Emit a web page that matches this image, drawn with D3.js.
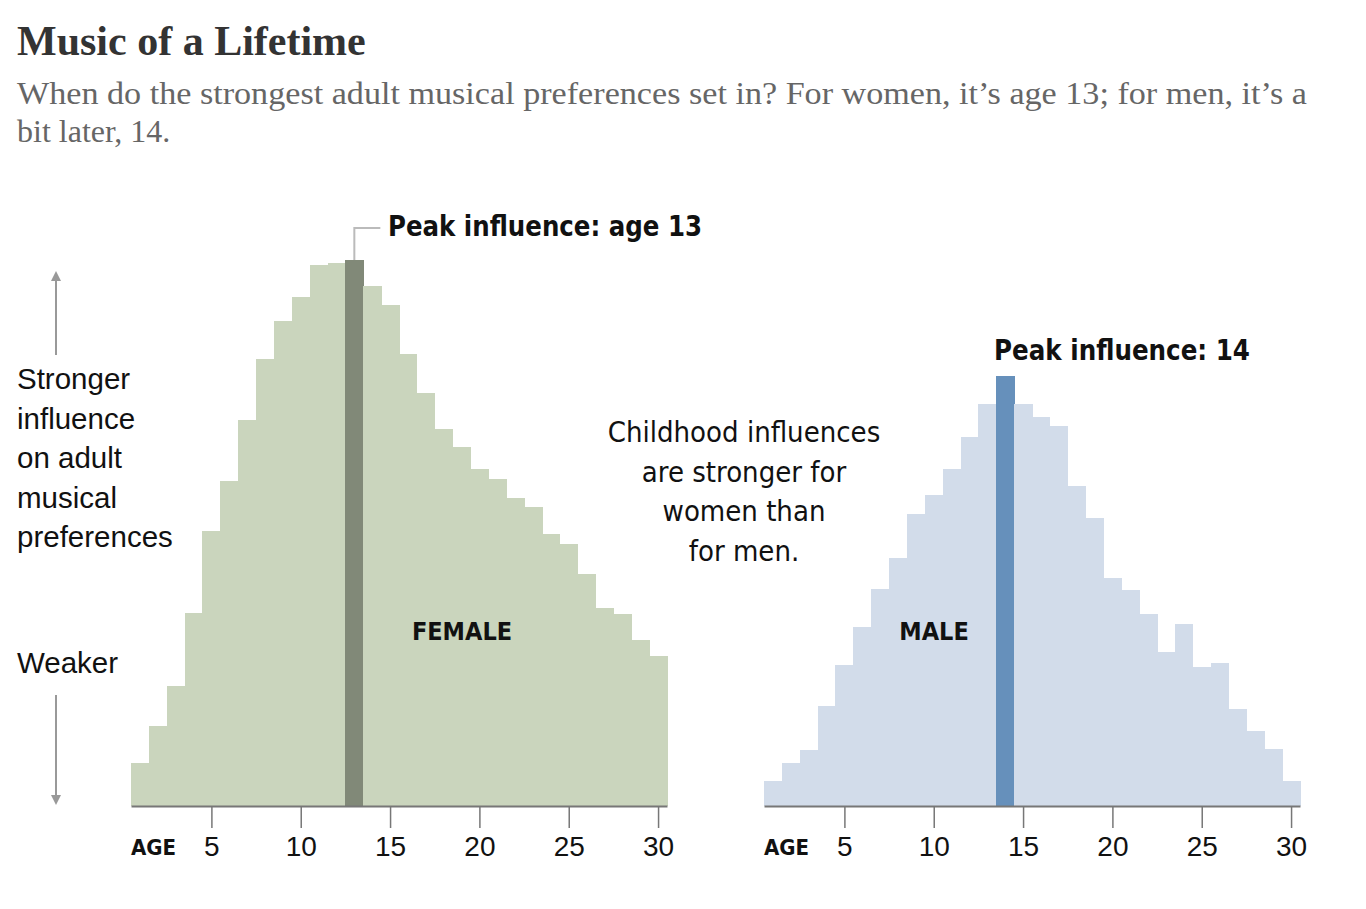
<!DOCTYPE html>
<html>
<head>
<meta charset="utf-8">
<script src="https://cdn.jsdelivr.net/npm/d3@7"></script>
<style>
  body { margin: 0; background: #fff; }
  .cond { font-family: "Liberation Sans Narrow", "DejaVu Sans Condensed", sans-serif; font-stretch: condensed; }
</style>
</head>
<body>
<script>
var ages = d3.range(1, 31);

var female = [7.9, 14.7, 22.0, 35.4, 50.3, 59.5, 70.7, 81.9, 88.8, 93.2,
              99.0, 99.5, 100, 95.3, 91.7, 82.7, 75.6, 69.1, 65.8, 61.8,
              59.9, 56.5, 54.7, 49.9, 47.9, 42.4, 36.3, 35.1, 30.4, 27.4];

var male = [4.6, 7.8, 10.3, 18.3, 25.9, 32.7, 39.7, 45.4, 53.5, 56.9,
            61.8, 67.6, 73.6, 78.7, 73.6, 71.2, 69.6, 58.6, 52.7, 41.7,
            39.5, 35.1, 28.2, 33.3, 25.5, 26.1, 17.7, 13.7, 10.4, 4.6];

var tickAges = [5, 10, 15, 20, 25, 30];
var femalePeak = 13;
var malePeak = 14;

var svg = d3.select('body')
    .append('svg')
    .attr('width', 1366)
    .attr('height', 909);

// title + subtitle
svg.append('text')
    .attr('x', 17)
    .attr('y', 55)
    .attr('font-family', 'Liberation Serif, serif')
    .attr('font-weight', 'bold')
    .attr('font-size', 42)
    .attr('fill', '#333')
    .text('Music of a Lifetime');

svg.append('text')
    .attr('x', 17)
    .attr('y', 104)
    .attr('font-family', 'Liberation Serif, serif')
    .attr('font-size', 32)
    .attr('fill', '#666')
    .attr('textLength', 1290)
    .attr('lengthAdjust', 'spacingAndGlyphs')
    .text('When do the strongest adult musical preferences set in? For women, it\u2019s age 13; for men, it\u2019s a');

svg.append('text')
    .attr('x', 17)
    .attr('y', 142)
    .attr('font-family', 'Liberation Serif, serif')
    .attr('font-size', 32)
    .attr('fill', '#666')
    .text('bit later, 14.');

var y = d3.scaleLinear()
    .domain([0, 100])
    .range([806, 260]);

function drawPanel(values, peak, left, right, fill, peakFill) {
    var x = d3.scaleLinear()
        .domain([0.5, 30.5])
        .range([left, right]);
    var w = x(1) - x(0);
    var g = svg.append('g');

    g.selectAll('rect')
        .data(ages)
        .enter()
        .append('rect')
        .attr('x', function(d) { return x(d - 0.5); })
        .attr('y', function(d, i) { return y(values[i]); })
        .attr('width', w + 0.6)
        .attr('height', function(d, i) { return y(0) - y(values[i]); })
        .attr('shape-rendering', 'crispEdges')
        .attr('fill', function(d) { return d === peak ? peakFill : fill; });

    // peak bar again on top
    g.append('rect')
        .attr('x', x(peak - 0.5))
        .attr('y', y(values[peak - 1]))
        .attr('width', w)
        .attr('height', y(0) - y(values[peak - 1]))
        .attr('shape-rendering', 'crispEdges')
        .attr('fill', peakFill);

    var axis = d3.axisBottom(x)
        .tickValues(tickAges)
        .tickSize(22)
        .tickPadding(8)
        .tickSizeOuter(0);

    var ax = g.append('g')
        .attr('transform', 'translate(0,' + y(0) + ')')
        .call(axis);
    ax.select('.domain').attr('stroke', '#777').attr('stroke-width', 2);
    ax.selectAll('.tick line').attr('stroke', '#777').attr('stroke-width', 1.5);
    ax.selectAll('.tick text')
        .attr('font-family', 'Liberation Sans, Arial, sans-serif')
        .attr('font-size', 28)
        .attr('fill', '#111');

    g.append('text')
        .attr('class', 'cond')
        .attr('x', left)
        .attr('y', 855)
        .attr('font-size', 22)
        .attr('font-weight', 'bold')
        .attr('fill', '#111')
        .text('AGE');

    return x;
}

var xf = drawPanel(female, femalePeak, 131, 667, '#cad5bd', '#818978');
var xm = drawPanel(male, malePeak, 764, 1300, '#d2dcea', '#6690bb');

// peak labels
var fTop = y(female[femalePeak - 1]);
svg.append('path')
    .attr('d', 'M' + xf(femalePeak) + ',' + fTop + 'V' + (fTop - 32) + 'H' + (xf(femalePeak) + 26))
    .attr('fill', 'none')
    .attr('stroke', '#bbb')
    .attr('stroke-width', 2);

svg.append('text')
    .attr('class', 'cond')
    .attr('x', 388)
    .attr('y', 236)
    .attr('font-size', 29)
    .attr('font-weight', 'bold')
    .attr('fill', '#111')
    .attr('textLength', 314)
    .attr('lengthAdjust', 'spacingAndGlyphs')
    .text('Peak influence: age 13');

svg.append('text')
    .attr('class', 'cond')
    .attr('x', 994)
    .attr('y', 360)
    .attr('font-size', 29)
    .attr('font-weight', 'bold')
    .attr('fill', '#111')
    .attr('textLength', 256)
    .attr('lengthAdjust', 'spacingAndGlyphs')
    .text('Peak influence: 14');

svg.append('text')
    .attr('class', 'cond')
    .attr('x', 462)
    .attr('y', 640)
    .attr('font-size', 25)
    .attr('font-weight', 'bold')
    .attr('fill', '#111')
    .style('text-anchor', 'middle')
    .text('FEMALE');

svg.append('text')
    .attr('class', 'cond')
    .attr('x', 934)
    .attr('y', 640)
    .attr('font-size', 25)
    .attr('font-weight', 'bold')
    .attr('fill', '#111')
    .style('text-anchor', 'middle')
    .text('MALE');

// middle note
var note = ['Childhood influences', 'are stronger for', 'women than', 'for men.'];
svg.selectAll('.note')
    .data(note)
    .enter()
    .append('text')
    .attr('class', 'cond')
    .attr('x', 744)
    .attr('y', function(d, i) { return 442 + i * 39.5; })
    .attr('font-size', 29)
    .attr('fill', '#111')
    .style('text-anchor', 'middle')
    .text(function(d) { return d; });

// left y annotation
var side = ['Stronger', 'influence', 'on adult', 'musical', 'preferences'];
svg.selectAll('.side')
    .data(side)
    .enter()
    .append('text')
    .attr('x', 17)
    .attr('y', function(d, i) { return 389 + i * 39.5; })
    .attr('font-family', 'Liberation Sans, Arial, sans-serif')
    .attr('font-size', 29.5)
    .attr('fill', '#111')
    .text(function(d) { return d; });

svg.append('text')
    .attr('x', 17)
    .attr('y', 673)
    .attr('font-family', 'Liberation Sans, Arial, sans-serif')
    .attr('font-size', 29.5)
    .attr('fill', '#111')
    .text('Weaker');

var defs = svg.append('defs');
defs.append('marker')
    .attr('id', 'head')
    .attr('viewBox', '0 0 10 10')
    .attr('refX', 5)
    .attr('refY', 5)
    .attr('markerWidth', 5)
    .attr('markerHeight', 5)
    .attr('orient', 'auto')
    .append('path')
    .attr('d', 'M0,0L10,5L0,10Z')
    .attr('fill', '#999');

svg.append('line')
    .attr('x1', 56).attr('y1', 355)
    .attr('x2', 56).attr('y2', 276)
    .attr('stroke', '#999')
    .attr('stroke-width', 2)
    .attr('marker-end', 'url(#head)');

svg.append('line')
    .attr('x1', 56).attr('y1', 695)
    .attr('x2', 56).attr('y2', 800)
    .attr('stroke', '#999')
    .attr('stroke-width', 2)
    .attr('marker-end', 'url(#head)');
</script>
</body>
</html>
